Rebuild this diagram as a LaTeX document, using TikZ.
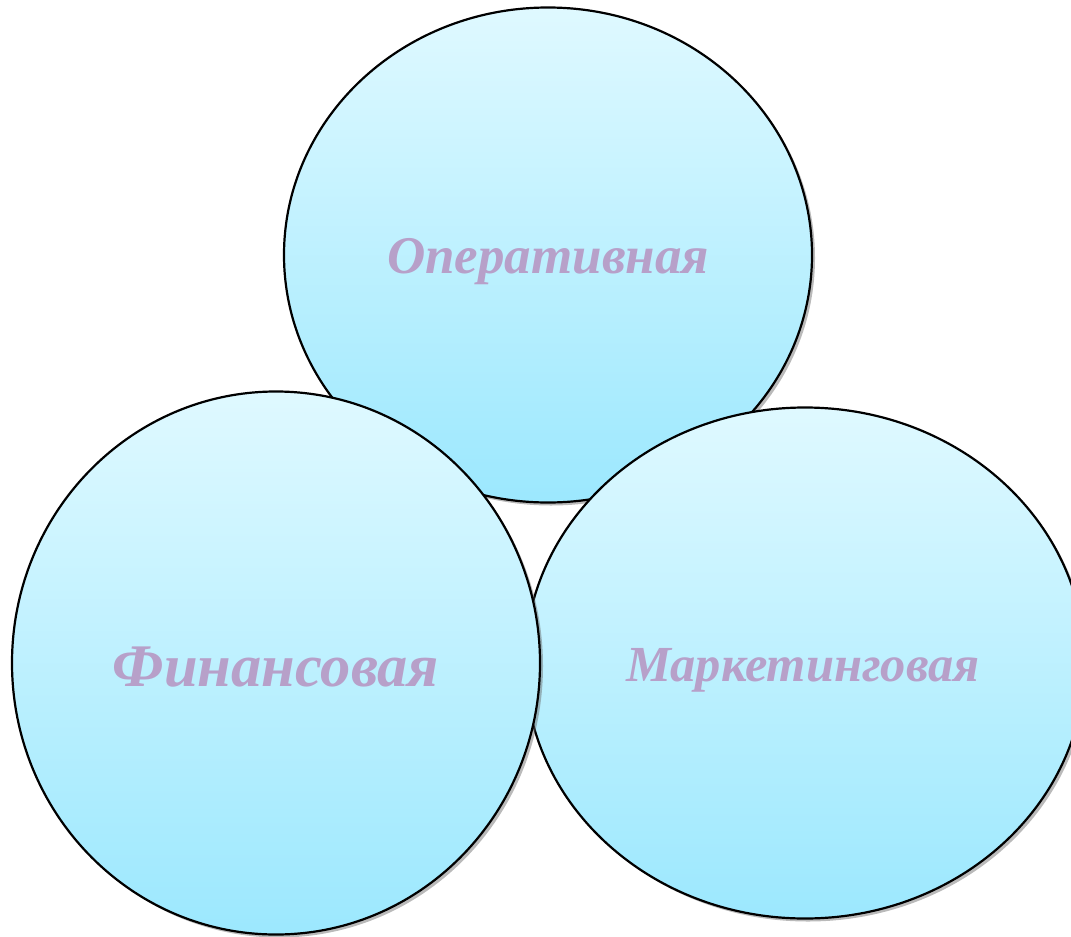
\documentclass[tikz,border=0pt]{standalone}
\usepackage{fontspec}
\setmainfont{Liberation Serif}
\usetikzlibrary{shapes.geometric,shadows}
\definecolor{topc}{HTML}{DFF9FF}
\definecolor{botc}{HTML}{9CE8FE}
\definecolor{txtc}{HTML}{B7A0C9}
\tikzset{
  blob/.style={ellipse, draw=black, line width=2.2pt, top color=topc, bottom color=botc,
    drop shadow={shadow xshift=3pt, shadow yshift=-3pt, opacity=0.45, fill=black!60},
    inner sep=0pt, text=txtc},
}
\newcommand{\lowered}[2]{\raisebox{#1}[\height][\depth]{#2}}
\begin{document}
\begin{tikzpicture}[x=1pt,y=-1pt]
\useasboundingbox (0,0) rectangle (1071,937);
\node[blob, minimum width=528pt, minimum height=495pt, font=\fontsize{53}{55}\selectfont\bfseries\itshape] (op) at (548,255) {\lowered{-7pt}{Оперативная}};
\node[blob, minimum width=560pt, minimum height=511pt, font=\fontsize{50.5}{52}\selectfont\bfseries\itshape] (mk) at (805,663) {\hspace*{-4pt}\lowered{-7pt}{Маркетинговая}};
\node[blob, minimum width=528pt, minimum height=543pt, font=\fontsize{60.5}{62}\selectfont\bfseries\itshape] (fin) at (276,663) {\lowered{-4pt}{Финансовая}};
\end{tikzpicture}
\end{document}
